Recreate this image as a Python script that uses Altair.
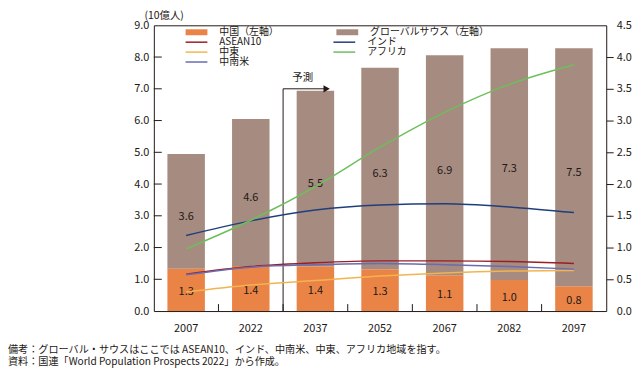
import altair as alt
import pandas as pd

FONT = "Noto Sans CJK JP"
INK = "#231815"

years = ["2007", "2022", "2037", "2052", "2067", "2082", "2097"]
china = [1.33, 1.42, 1.41, 1.32, 1.13, 0.98, 0.78]
global_south = [3.62, 4.63, 5.53, 6.34, 6.93, 7.30, 7.50]

asean = [0.58, 0.70, 0.76, 0.79, 0.79, 0.78, 0.75]
india = [1.19, 1.42, 1.59, 1.67, 1.69, 1.64, 1.55]
middle_east = [0.30, 0.41, 0.48, 0.55, 0.60, 0.63, 0.64]
africa = [0.98, 1.43, 1.96, 2.58, 3.13, 3.57, 3.88]
latam = [0.57, 0.69, 0.73, 0.75, 0.73, 0.70, 0.66]

bar_series = ["中国（左軸）", "グローバルサウス（左軸）"]
bar_colors = ["#EA8446", "#A68B81"]
line_series = ["ASEAN10", "インド", "中東", "アフリカ", "中南米"]
line_colors = ["#9B1E23", "#1F3F7C", "#F3B450", "#6EBE5B", "#6A6BB0"]
line_values = [asean, india, middle_east, africa, latam]

left_ticks = [1, 2, 3, 4, 5, 6, 7, 8]
forecast_start = "2037"
forecast_top = 7.0

notes = [
    "備考：グローバル・サウスはここでは ASEAN10、インド、中南米、中東、アフリカ地域を指す。",
    "資料：国連「World Population Prospects 2022」から作成。",
]

# tables built from the arrays
bar_rows = []
for i, y in enumerate(years):
    bar_rows.append({"year": y, "series": bar_series[0], "lo": 0.0, "hi": china[i],
                     "label": china[i], "ly": china[i] / 2 - 0.07})
    bar_rows.append({"year": y, "series": bar_series[1], "lo": china[i],
                     "hi": china[i] + global_south[i], "label": global_south[i],
                     "ly": china[i] + global_south[i] / 2 - 0.17})
bars_df = pd.DataFrame(bar_rows)

line_rows = []
for name, vals in zip(line_series, line_values):
    for y, v in zip(years, vals):
        line_rows.append({"year": y, "region": name, "value": v})
lines_df = pd.DataFrame(line_rows)

lt_df = pd.DataFrame({"v": left_ticks})
bt_df = pd.DataFrame({"year": years[1:]})
fc_df = pd.DataFrame({"year": [forecast_start], "top": [forecast_top], "zero": [0.0],
                      "txt": ["予測"]})

W, H = 456, 288
P_INNER = 0.42
left_scale = alt.Scale(domain=[0, 9], nice=False, zero=True)
right_scale = alt.Scale(domain=[0, 4.5], nice=False, zero=True)
x_scale = alt.Scale(paddingInner=P_INNER, paddingOuter=P_INNER / 2)
STEP = W / len(years)
EDGE_OFF = -STEP * P_INNER / 2   # from bar start back to the category boundary


def xf(bp=None):
    if bp is None:
        return alt.X("year:N", sort=years, scale=x_scale, title=None)
    return alt.X("year:N", sort=years, scale=x_scale, title=None, bandPosition=bp)


legend_common = dict(title=None, orient="none", columns=2, padding=0,
                     direction="horizontal", symbolSize=64, symbolOffset=7,
                     labelOffset=18, labelFontSize=10, rowPadding=0)

bars = alt.Chart(bars_df).mark_bar().encode(
    x=xf(),
    y=alt.Y("lo:Q", scale=left_scale,
            axis=alt.Axis(orient="left", values=list(range(10)), format=".1f", ticks=False,
                          domain=False, grid=False, labelPadding=5, labelFontSize=11,
                          title="(10億人)", titleAngle=0, titleAlign="left",
                          titleBaseline="middle", titleX=-10, titleY=-10,
                          titleFont=FONT, titleFontSize=10.5, titleFontWeight="normal",
                          titleColor=INK)),
    y2="hi:Q",
    fill=alt.Fill("series:N", scale=alt.Scale(domain=bar_series, range=bar_colors),
                  legend=alt.Legend(legendX=31, legendY=2, columnPadding=57,
                                    symbolType="M-2.75,-0.75H2.75V0.75H-2.75Z",
                                    symbolStrokeWidth=0, **legend_common)),
)

labels = alt.Chart(bars_df).mark_text(font=FONT, fontSize=11, color=INK,
                                      baseline="middle").encode(
    x=xf(),
    y=alt.Y("ly:Q", scale=left_scale, axis=None),
    text=alt.Text("label:Q", format=".1f"),
)

left_tick_marks = alt.Chart(lt_df).mark_rule(color=INK, strokeWidth=1).encode(
    y=alt.Y("v:Q", scale=left_scale, axis=None),
    x=alt.value(0), x2=alt.value(8),
)

bottom_tick_marks = alt.Chart(bt_df).mark_rule(color=INK, strokeWidth=1,
                                               xOffset=EDGE_OFF).encode(
    x=xf(0),
    y=alt.value(H), y2=alt.value(H - 7),
)

fc_vert = alt.Chart(fc_df).mark_rule(color=INK, strokeWidth=1, xOffset=EDGE_OFF).encode(
    x=xf(0),
    y=alt.Y("zero:Q", scale=left_scale, axis=None),
    y2="top:Q",
)
fc_horiz = alt.Chart(fc_df).mark_rule(color=INK, strokeWidth=1, xOffset=EDGE_OFF,
                                      x2Offset=30).encode(
    x=xf(0),
    x2=alt.X2("year:N", bandPosition=0),
    y=alt.Y("top:Q", scale=left_scale, axis=None),
)
fc_head = alt.Chart(fc_df).mark_point(shape="triangle-right", filled=True, size=55,
                                      color=INK, opacity=1).encode(
    x=xf(0.8),
    y=alt.Y("top:Q", scale=left_scale, axis=None),
)
fc_text = alt.Chart(fc_df).mark_text(font=FONT, fontSize=10.5, color=INK, dy=-11,
                                     baseline="middle").encode(
    x=xf(0.16),
    y=alt.Y("top:Q", scale=left_scale, axis=None),
    text="txt:N",
)

lines = alt.Chart(lines_df).mark_line(strokeWidth=1.5, interpolate="monotone").encode(
    x=xf(),
    y=alt.Y("value:Q", scale=right_scale,
            axis=alt.Axis(orient="right", values=[0, 0.5, 1, 1.5, 2, 2.5, 3, 3.5, 4, 4.5],
                          format=".1f", tickSize=7, tickColor=INK, domain=False,
                          grid=False, labelPadding=3, labelFontSize=11, title=None,
                          tickOpacity={"condition": {"test": "datum.value == 0 || datum.value == 4.5",
                                                     "value": 0}, "value": 1})),
    stroke=alt.Stroke("region:N", scale=alt.Scale(domain=line_series, range=line_colors),
                      legend=alt.Legend(legendX=31, legendY=12, columnPadding=69,
                                        symbolType="M-2.75,0H2.75",
                                        symbolStrokeWidth=1.5, **legend_common)),
)

chart = alt.layer(
    bars, labels, left_tick_marks, bottom_tick_marks,
    fc_vert, fc_horiz, fc_head, fc_text, lines,
).resolve_scale(y="independent").properties(
    width=W, height=H,
    autosize=alt.AutoSizeParams(type="none"),
    padding={"left": 147, "top": 16, "right": 30, "bottom": 60},
    title=alt.TitleParams(text=notes, orient="bottom", anchor="start", frame="group",
                          font=FONT, fontSize=10.2, fontWeight="normal", color=INK,
                          dx=-147, offset=11, lineHeight=12.5),
).configure_view(
    stroke=INK, strokeWidth=1,
).configure_axis(
    labelFont=FONT, labelColor=INK,
).configure_axisX(
    labelAngle=0, ticks=False, domain=False, grid=False, labelPadding=12,
    labelFontSize=11, title=None,
).configure_legend(
    labelFont=FONT, labelColor=INK,
)

chart.save("out.html", embed_options={"renderer": "svg", "actions": False})
